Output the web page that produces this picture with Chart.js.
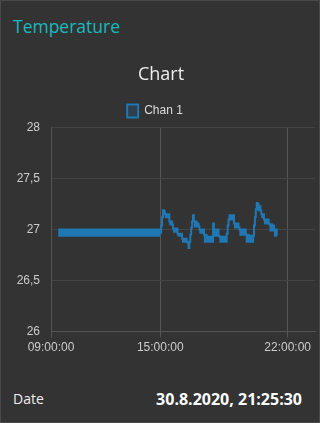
<!DOCTYPE html>
<html lang="de">
<head>
  <meta charset="UTF-8" />
  <title>Temperature</title>
  <script src="https://cdn.jsdelivr.net/npm/chart.js"></script>
  <style>
    html, body { margin: 0; padding: 0; background: #333; }
    .card { position: relative; width: 320px; height: 423px; box-sizing: border-box; border: 1px solid #4a4a4a; background: #333; overflow: hidden; }
    .group-title { position: absolute; left: 12px; top: 13px; font-family: "Open Sans", "Noto Sans", sans-serif; font-size: 17.5px; color: #19b9be; }
    .chart-box { position: absolute; left: 6px; top: 51px; width: 310px; height: 306px; }
    .row { position: absolute; left: 12px; right: 17px; top: 388px; font-family: "Open Sans", "Noto Sans", sans-serif; color: #eee; font-size: 14px; }
    .row .val { position: absolute; right: 0; top: -1px; font-weight: bold; font-size: 16px; color: #fff; }
  </style>
</head>
<body>
  <div class="card">
    <div class="group-title">Temperature</div>
    <div class="chart-box"><canvas id="chart"></canvas></div>
    <div class="row"><span>Date</span><span class="val">30.8.2020, 21:25:30</span></div>
  </div>

  <script>
    const seriesLabel = "Chan 1";
    const xTicks = [9, 15, 22];
    const yTicks = [26, 26.5, 27, 27.5, 28];

    // sensor sends a reading every 3 minutes, first one at 09:24
    const firstSample = "09:24";
    const sampleMinutes = 3;

    // 09:24 - 14:57, sits between 26.94 and 27.0
    const tempsMorning = [
      26.94,27.0,26.94,27.0,26.94,27.0,26.94,27.0,26.94,27.0,26.94,27.0,26.94,27.0,
      26.94,27.0,26.94,27.0,26.94,27.0,26.94,27.0,26.94,27.0,26.94,27.0,26.94,27.0,
      26.94,27.0,26.94,27.0,26.94,27.0,26.94,27.0,26.94,27.0,26.94,27.0,26.94,27.0,
      26.94,27.0,26.94,27.0,26.94,27.0,26.94,27.0,26.94,27.0,26.94,27.0,26.94,27.0,
      26.94,27.0,26.94,27.0,26.94,27.0,26.94,27.0,26.94,27.0,26.94,27.0,26.94,27.0,
      26.94,27.0,26.94,27.0,26.94,27.0,26.94,27.0,26.94,27.0,26.94,27.0,26.94,27.0,
      26.94,27.0,26.94,27.0,26.94,27.0,26.94,27.0,26.94,27.0,26.94,27.0,26.94,27.0,
      26.94,27.0,26.94,27.0,26.94,27.0,26.94,27.0,26.94,27.0,26.94,27.0,26.94,27.0
    ];
    // 15:00 - 21:24, one row per hour
    const tempsAfternoon = [
      26.97,27.04,27.12,27.19,27.18,27.15,27.12,27.15,27.12,27.15,27.08,27.05,27.08,27.05,27.01,26.98,27.01,26.98,27.01,26.96,
      26.94,26.96,26.94,26.96,26.91,26.88,26.91,26.88,26.91,26.88,26.87,26.82,26.88,26.95,27.02,27.08,27.14,27.08,27.03,27.08,
      27.03,27.06,27.03,27.0,26.97,27.0,26.97,27.0,26.95,26.88,26.95,26.88,26.93,26.88,26.93,26.88,26.93,26.88,27.06,27.0,
      26.94,27.0,26.94,27.0,26.94,26.93,26.88,26.93,26.88,26.93,26.88,26.93,26.88,26.96,27.04,27.1,27.14,27.1,27.14,27.1,
      27.14,27.06,27.02,27.06,27.02,27.06,27.02,27.0,26.95,27.0,26.95,27.0,26.95,27.0,26.95,26.88,26.95,26.88,26.94,26.88,
      26.94,26.88,26.94,27.04,27.12,27.2,27.26,27.25,27.19,27.23,27.19,27.15,27.12,27.15,27.1,27.06,27.1,27.06,27.1,27.06,
      27.05,26.99,27.05,26.99,27.04,27.0,26.94,27.0,26.94
    ];
    const temps = tempsMorning.concat(tempsAfternoon);

    function toHours(t) {
      const [h, m] = t.split(":").map(Number);
      return h + m / 60;
    }
    function pad(n) { return String(n).padStart(2, "0"); }

    const start = toHours(firstSample);
    const points = temps.map((v, i) => ({ x: start + i * sampleMinutes / 60, y: v }));

    // the dashboard legend sits a bit left of centre
    const legendNudge = {
      id: "legendNudge",
      afterLayout(chart) {
        chart.legend.left -= 6;
        chart.legend.right -= 6;
      }
    };

    new Chart(document.getElementById("chart"), {
      type: "line",
      data: {
        datasets: [{
          label: seriesLabel,
          data: points,
          borderColor: "#1f77b4",
          backgroundColor: "rgba(31,119,180,0.2)",
          borderWidth: 2,
          pointRadius: 0,
          fill: false,
          stepped: true
        }]
      },
      plugins: [legendNudge],
      options: {
        responsive: true,
        maintainAspectRatio: false,
        animation: false,
        locale: "de-DE",
        layout: { padding: { top: 0, right: 2, bottom: 0, left: 0 } },
        plugins: {
          title: {
            display: true,
            text: "Chart",
            color: "#eee",
            font: { family: "'Open Sans', 'Noto Sans', sans-serif", size: 18, weight: "normal" },
            padding: { top: 12, bottom: 9 }
          },
          legend: {
            labels: {
              color: "#ddd",
              boxWidth: 11,
              boxHeight: 13,
              font: { family: "'Liberation Sans', Arial, sans-serif", size: 12 }
            }
          },
          tooltip: { enabled: false }
        },
        scales: {
          x: {
            type: "linear",
            min: 9,
            max: 23.5,
            afterBuildTicks: (axis) => { axis.ticks = xTicks.map(v => ({ value: v })); },
            ticks: {
              color: "#ccc",
              maxRotation: 0,
              font: { family: "'Liberation Sans', Arial, sans-serif", size: 12 },
              callback: (v) => pad(v) + ":00:00"
            },
            grid: { color: "#555", tickLength: 6 },
            border: { color: "#555" }
          },
          y: {
            min: 26,
            max: 28,
            afterBuildTicks: (axis) => { axis.ticks = yTicks.map(v => ({ value: v })); },
            afterFit: (axis) => { axis.width = 44; },
            ticks: {
              color: "#ccc",
              padding: 11,
              font: { family: "'Liberation Sans', Arial, sans-serif", size: 12 },
              callback: (v) => String(v).replace(".", ",")
            },
            grid: { color: "#444", drawTicks: false },
            border: { color: "#555" }
          }
        }
      }
    });
  </script>
</body>
</html>
